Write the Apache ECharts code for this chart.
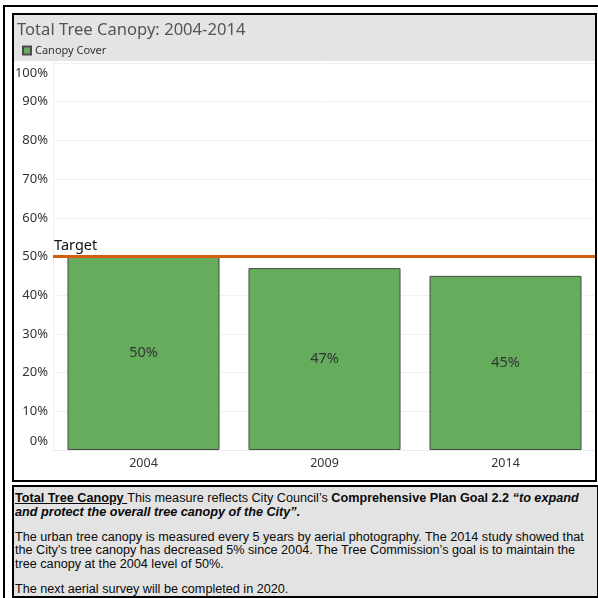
<!DOCTYPE html>
<html>
<head>
<meta charset="utf-8">
<script src="https://cdn.jsdelivr.net/npm/echarts@6/dist/echarts.min.js"></script>
<style>
  html, body { margin: 0; padding: 0; background: #fff; }
  #chart { position: absolute; left: 0; top: 0; width: 598px; height: 598px; }
  #note {
    position: absolute; left: 12px; top: 485px; width: 582px; height: 104px;
    border: 2px solid #000; background: #e3e3e3;
    font-family: "Liberation Sans", Arial, sans-serif; font-size: 12.65px; color: #0a0a0a;
    line-height: 13.8px; padding: 5px 0 0 1px; box-sizing: content-box;
    white-space: nowrap; overflow: hidden;
  }
  #note p { margin: 0 0 11px 0; }
</style>
</head>
<body>
<div id="chart"></div>
<div id="note">
  <p><u><b>Total Tree Canopy </b></u>This measure reflects City Council’s <b>Comprehensive Plan Goal 2.2 <i>“to expand</i></b><br><b><i>and protect the overall tree canopy of the City”.</i></b></p>
  <p>The urban tree canopy is measured every 5 years by aerial photography. The 2014 study showed that<br>the City’s tree canopy has decreased 5% since 2004. The Tree Commission’s goal is to maintain the<br>tree canopy at the 2004 level of 50%.</p>
  <p>The next aerial survey will be completed in 2020.</p>
</div>
<script>
const categories = ['2004', '2009', '2014'];
const canopyValues = [50, 47, 45];
const targetValue = 50;
const titleText = 'Total Tree Canopy: 2004-2014';
const seriesName = 'Canopy Cover';
const targetLabel = 'Target';

const chart = echarts.init(document.getElementById('chart'), null, { renderer: 'canvas' });
const FONT = '"Noto Sans", "Open Sans", sans-serif';

chart.setOption({
  animation: false,
  textStyle: { fontFamily: FONT },
  graphic: [
    { type: 'rect', z: -10, shape: { x: 3, y: 5, width: 595, height: 2 }, style: { fill: '#000' } },
    { type: 'rect', z: -10, shape: { x: 3, y: 5, width: 2, height: 593 }, style: { fill: '#000' } },
    { type: 'rect', z: -10, shape: { x: 14, y: 15, width: 581, height: 46 }, style: { fill: '#e4e4e4' } },
    { type: 'rect', z: 10, shape: { x: 13, y: 14, width: 583, height: 467 }, style: { fill: 'none', stroke: '#000', lineWidth: 2 } }
  ],
  title: {
    text: titleText, left: 17, top: 22, padding: 0,
    textStyle: { fontFamily: FONT, fontSize: 16.6, fontWeight: 'normal', color: '#555' }
  },
  legend: {
    data: [seriesName], left: 17, top: 40, icon: 'rect', itemWidth: 8, itemHeight: 8, itemGap: 5,
    textStyle: { fontFamily: FONT, fontSize: 11, color: '#333', padding: [0, 0, 0, -1] }
  },
  grid: { left: 53, right: 2, top: 63, bottom: 148, containLabel: false },
  xAxis: {
    type: 'category', data: categories,
    axisLine: { show: true, lineStyle: { color: '#eaeaea' } },
    axisTick: { show: false },
    axisLabel: { color: '#333', fontSize: 12.5, margin: 7, fontFamily: FONT }
  },
  yAxis: {
    type: 'value', min: 0, max: 100, interval: 10,
    axisLine: { show: true, lineStyle: { color: '#f0f0f0' } },
    axisTick: { show: false },
    splitLine: { lineStyle: { color: '#f1f1f1' } },
    axisLabel: {
      color: '#333', fontSize: 13, margin: 5, fontFamily: FONT,
      formatter: function (v) {
        if (v === 100) return '{top|' + v + '%}';
        if (v === 0) return '{bot|' + v + '%}';
        return v + '%';
      },
      rich: {
        top: { fontSize: 13, color: '#333', fontFamily: FONT, padding: [20, 0, 0, 0] },
        bot: { fontSize: 13, color: '#333', fontFamily: FONT, padding: [0, 0, 18, 0] }
      }
    }
  },
  series: [{
    name: seriesName, type: 'bar', data: canopyValues, barCategoryGap: '16%',
    itemStyle: { color: '#65ad5d', borderColor: '#4a4a4a', borderWidth: 1 },
    label: { show: true, position: 'inside', formatter: '{c}%', fontSize: 14.5, color: '#333', fontFamily: FONT },
    markLine: {
      silent: true, symbol: 'none',
      lineStyle: { color: '#d35f0d', width: 3, type: 'solid' },
      label: { show: true, position: 'insideStartTop', formatter: targetLabel, color: '#111', fontSize: 14.5, fontFamily: FONT, distance: [1, 3] },
      data: [{ yAxis: targetValue }]
    }
  }]
});
</script>
</body>
</html>
